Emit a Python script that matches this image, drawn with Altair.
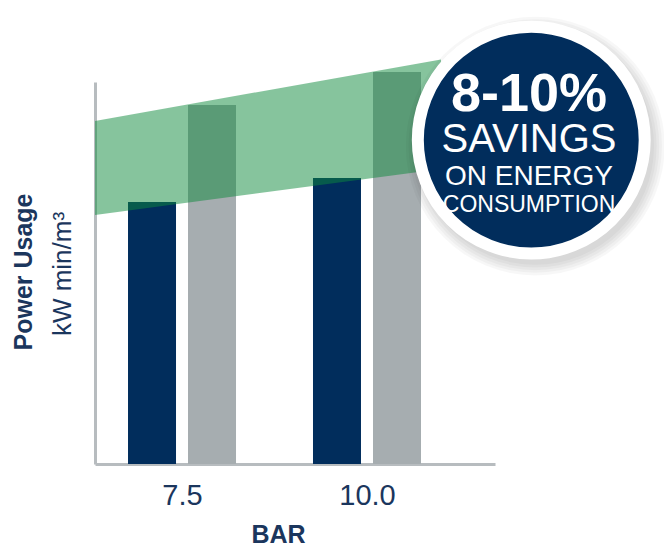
import math
import altair as alt
import pandas as pd

# ---- data ----
pressure = [7.5, 10.0]
navy_vals = [68.6, 74.9]     # lower (dark navy) bars
gray_vals = [94.0, 102.6]    # higher (grey) bars

band_x = [6.324, 11.0]
band_low = [65.2, 77.2]
band_high = [89.8, 105.9]

badge_x = [12.22]
badge_y = [84.8]
badge_lines = ["8-10%", "SAVINGS", "ON ENERGY", "CONSUMPTION"]
badge_text_x = 12.19
badge_line_y = [92.3, 81.8, 73.0, 66.0]

NAVY = "#012d5c"
GRAY = "#a6adb0"
GREEN = "#0d8a3c"
AXIS = "#b7bcbf"
TEXT = "#1b365d"
FONT = "Liberation Sans"

xscale = alt.Scale(domain=[6.324, 11.73], nice=False, zero=False, padding=0)
yscale = alt.Scale(domain=[0, 100], nice=False, padding=0)

xaxis = alt.Axis(values=pressure, format=".1f", title="BAR",
                 ticks=False, grid=False, labelPadding=17,
                 labelFontSize=29, labelColor=TEXT, labelFont=FONT,
                 domainColor=AXIS, domainWidth=3,
                 titleFont=FONT, titleFontSize=25, titleFontWeight="bold",
                 titleColor=TEXT, titleX=183, titleY=78,
                 titleBaseline="alphabetic", titleAlign="center")
yaxis = alt.Axis(title=None, labels=False, ticks=False, grid=False,
                 domainColor=AXIS, domainWidth=3)


def X(field):
    return alt.X(field, type="quantitative", scale=xscale, axis=xaxis)


def Y(field):
    return alt.Y(field, type="quantitative", scale=yscale, axis=yaxis)


bars_navy = pd.DataFrame({"pressure": pressure, "value": navy_vals})
bars_gray = pd.DataFrame({"pressure": pressure, "value": gray_vals})
band = pd.DataFrame({"x": band_x, "low": band_low, "high": band_high})
badge = pd.DataFrame({"x": badge_x, "y": badge_y})

navy_layer = alt.Chart(bars_navy).mark_bar(width=48, xOffset=-30, color=NAVY).encode(
    x=X("pressure"), y=Y("value"))

gray_layer = alt.Chart(bars_gray).mark_bar(width=48, xOffset=30, color=GRAY).encode(
    x=X("pressure"), y=Y("value"))

band_layer = alt.Chart(band).mark_area(color=GREEN, opacity=0.5).encode(
    x=X("x"), y=Y("low"), y2="high:Q")

shadow_layers = []
for r in [146, 143, 140, 137, 134]:
    shadow_layers.append(
        alt.Chart(badge).mark_circle(color="#000000", opacity=0.03,
                                     size=math.pi * r * r, xOffset=4, yOffset=6).encode(
            x=X("x"), y=Y("y"))
    )

circle_layer = alt.Chart(badge).mark_circle(color=NAVY, opacity=1, stroke="white",
                                            strokeWidth=12, size=math.pi * 128 * 128).encode(
    x=X("x"), y=Y("y"))

fonts = [(54, "bold"), (40, "normal"), (28, "normal"), (23, "normal")]
text_layers = []
for line, yv, (fs, fw) in zip(badge_lines, badge_line_y, fonts):
    df = pd.DataFrame({"x": [badge_text_x], "y": [yv], "t": [line]})
    text_layers.append(
        alt.Chart(df).mark_text(color="white", fontSize=fs, fontWeight=fw, font=FONT,
                                align="center", baseline="alphabetic").encode(
            x=X("x"), y=Y("y"), text="t:N")
    )

ytitle1 = alt.Chart(pd.DataFrame({"t": ["Power Usage"]})).mark_text(
    angle=270, fontSize=25, fontWeight="bold", font=FONT, color=TEXT,
    align="center", baseline="middle").encode(
    x=alt.value(-71), y=alt.value(190), text="t:N")

ytitle2 = alt.Chart(pd.DataFrame({"t": ["kW min/m³"]})).mark_text(
    angle=270, fontSize=26, fontWeight="normal", font=FONT, color=TEXT,
    align="center", baseline="middle").encode(
    x=alt.value(-32), y=alt.value(192), text="t:N")

chart = alt.layer(
    navy_layer, gray_layer, band_layer, *shadow_layers, circle_layer, *text_layers,
    ytitle1, ytitle2,
).properties(
    width=400, height=382,
    autosize=alt.AutoSizeParams(type="none"),
    padding={"left": 87, "top": 74, "right": 169, "bottom": 84},
    background="white",
).configure_view(stroke=None)

chart.save("out.html", embed_options={"renderer": "svg", "actions": False})
